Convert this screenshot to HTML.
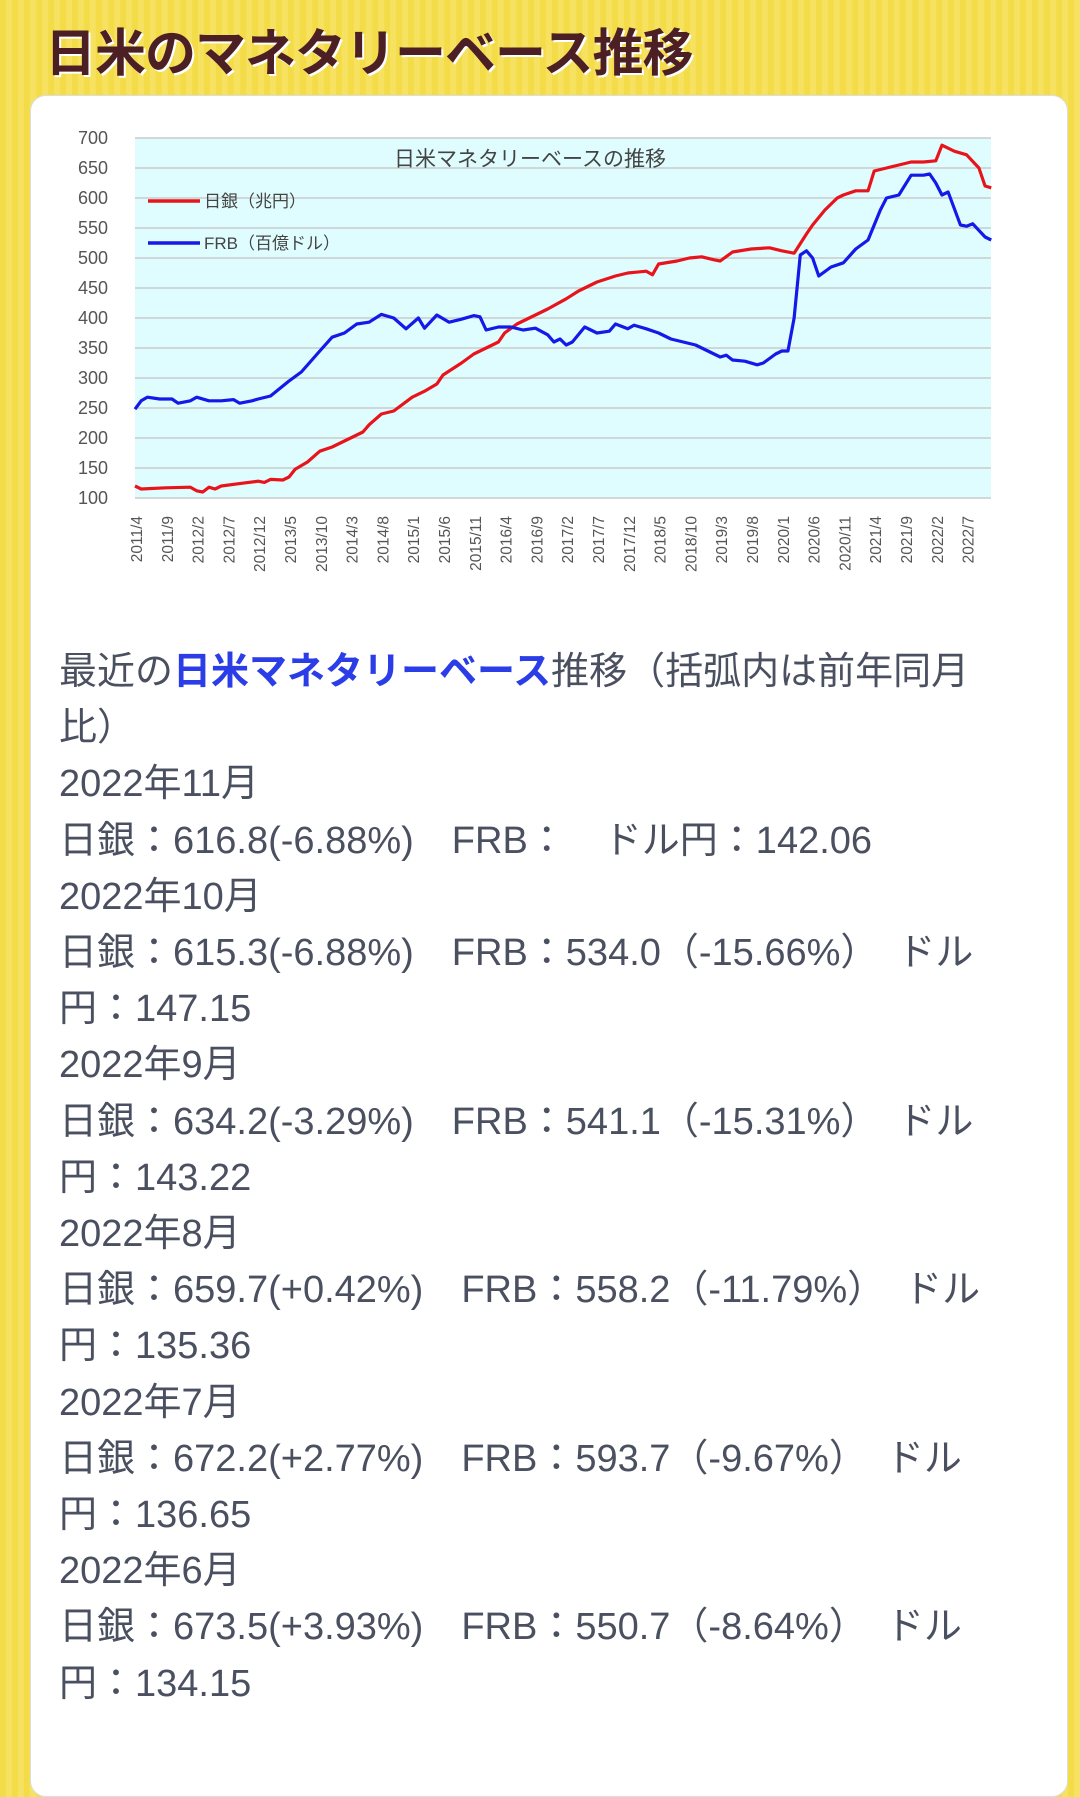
<!DOCTYPE html>
<html><head><meta charset="utf-8"><style>
html,body{margin:0;padding:0}
body{width:1080px;height:1693px;overflow:hidden;background:repeating-linear-gradient(90deg,#f3dc48 0 6px,#f6e260 6px 12px);font-family:"Liberation Sans","Noto Sans CJK JP",sans-serif;position:relative}
h1{position:absolute;left:45px;top:12px;margin:0;font-size:51px;font-weight:bold;color:#4b1f24;text-shadow:2px 2px 0 #fff;font-family:"Noto Sans CJK JP",sans-serif;letter-spacing:-1px;white-space:nowrap}
.card{position:absolute;left:30px;top:95px;width:1036px;height:1700px;background:#fff;border-radius:16px;border:1px solid #ddd}
.txt{position:absolute;left:59px;top:644px;font-size:38px;line-height:56.2px;color:#4a5060;white-space:nowrap;font-family:"Liberation Sans","Noto Sans CJK JP",sans-serif}
.b{color:#2b3de6;font-weight:bold}
</style></head><body>
<h1>日米のマネタリーベース推移</h1>
<div class="card"></div>
<svg style="position:absolute;left:0;top:0" width="1080" height="640" font-family="Liberation Sans, Noto Sans CJK JP, sans-serif">
<rect x="135" y="138" width="856" height="360" fill="#dffdfe"/>
<g stroke="#c8cccc" stroke-width="1.5">
<line x1="135" x2="991" y1="138" y2="138"/><line x1="135" x2="991" y1="168" y2="168"/><line x1="135" x2="991" y1="198" y2="198"/><line x1="135" x2="991" y1="228" y2="228"/><line x1="135" x2="991" y1="258" y2="258"/><line x1="135" x2="991" y1="288" y2="288"/><line x1="135" x2="991" y1="318" y2="318"/><line x1="135" x2="991" y1="348" y2="348"/><line x1="135" x2="991" y1="378" y2="378"/><line x1="135" x2="991" y1="408" y2="408"/><line x1="135" x2="991" y1="438" y2="438"/><line x1="135" x2="991" y1="468" y2="468"/><line x1="135" x2="991" y1="498" y2="498"/>
</g>
<g font-size="18" fill="#555" text-anchor="end">
<text x="108" y="144">700</text><text x="108" y="174">650</text><text x="108" y="204">600</text><text x="108" y="234">550</text><text x="108" y="264">500</text><text x="108" y="294">450</text><text x="108" y="324">400</text><text x="108" y="354">350</text><text x="108" y="384">300</text><text x="108" y="414">250</text><text x="108" y="444">200</text><text x="108" y="474">150</text><text x="108" y="504">100</text>
</g>
<text x="530" y="166" font-size="21" fill="#444" text-anchor="middle">日米マネタリーベースの推移</text>
<line x1="148" x2="200" y1="201" y2="201" stroke="#e8141c" stroke-width="3.5"/>
<text x="204" y="207" font-size="17" fill="#444">日銀（兆円）</text>
<line x1="148" x2="200" y1="243" y2="243" stroke="#1418e8" stroke-width="3.5"/>
<text x="204" y="249" font-size="17" fill="#444">FRB（百億ドル）</text>
<g transform="translate(135,558) scale(6.16,-0.6)" fill="none" stroke-width="3.2" stroke-linejoin="round">
<polyline vector-effect="non-scaling-stroke" stroke="#e8141c" points="0,120 1,115 5,117 9,118 10,112 11,110 12,118 13,115 14,120 17,124 20,128 21,126 22,131 24,130 25,135 26,148 28,160 30,178 32,185 35,200 37,210 38,222 40,240 42,245 45,268 47,278 49,290 50,305 53,325 55,340 57,350 59,360 60,375 62,390 64,400 65,405 67,415 70,432 72,445 74,455 75,460 78,470 80,475 83,478 84,472 85,490 88,495 90,500 92,502 94,497 95,495 97,510 100,515 103,517 105,512 107,508 109,540 110,555 112,580 114,600 115,605 117,612 119,612 120,645 122,650 124,655 126,660 128,660 130,662 131,688 133,678 135,672 137,650 138,620 139,617"/>
<polyline vector-effect="non-scaling-stroke" stroke="#1418e8" points="0,248 1,262 2,268 4,265 6,265 7,258 9,262 10,268 12,262 14,262 16,264 17,258 19,262 20,265 22,270 25,295 27,310 30,345 32,368 34,375 36,390 38,393 40,406 42,400 44,382 46,400 47,383 49,405 51,393 53,398 55,404 56,402 57,380 59,385 61,385 63,380 65,383 67,372 68,360 69,365 70,355 71,360 73,385 75,375 77,378 78,390 80,382 81,388 83,382 85,375 87,365 89,360 91,355 93,345 95,335 96,338 97,330 99,328 101,322 102,325 104,340 105,345 106,345 107,400 108,505 109,512 110,500 111,470 113,485 115,492 117,515 119,530 121,580 122,600 124,605 126,638 128,638 129,640 130,625 131,605 132,610 134,555 135,553 136,557 138,535 139,530"/>
</g>
<g font-size="15.5" fill="#555" text-anchor="end">
<text transform="translate(142,516) rotate(-90)">2011/4</text>
<text transform="translate(172.8,516) rotate(-90)">2011/9</text>
<text transform="translate(203.6,516) rotate(-90)">2012/2</text>
<text transform="translate(234.4,516) rotate(-90)">2012/7</text>
<text transform="translate(265.2,516) rotate(-90)">2012/12</text>
<text transform="translate(296,516) rotate(-90)">2013/5</text>
<text transform="translate(326.8,516) rotate(-90)">2013/10</text>
<text transform="translate(357.6,516) rotate(-90)">2014/3</text>
<text transform="translate(388.4,516) rotate(-90)">2014/8</text>
<text transform="translate(419.2,516) rotate(-90)">2015/1</text>
<text transform="translate(450,516) rotate(-90)">2015/6</text>
<text transform="translate(480.8,516) rotate(-90)">2015/11</text>
<text transform="translate(511.6,516) rotate(-90)">2016/4</text>
<text transform="translate(542.4,516) rotate(-90)">2016/9</text>
<text transform="translate(573.2,516) rotate(-90)">2017/2</text>
<text transform="translate(604,516) rotate(-90)">2017/7</text>
<text transform="translate(634.8,516) rotate(-90)">2017/12</text>
<text transform="translate(665.6,516) rotate(-90)">2018/5</text>
<text transform="translate(696.4,516) rotate(-90)">2018/10</text>
<text transform="translate(727.2,516) rotate(-90)">2019/3</text>
<text transform="translate(758,516) rotate(-90)">2019/8</text>
<text transform="translate(788.8,516) rotate(-90)">2020/1</text>
<text transform="translate(819.6,516) rotate(-90)">2020/6</text>
<text transform="translate(850.4,516) rotate(-90)">2020/11</text>
<text transform="translate(881.2,516) rotate(-90)">2021/4</text>
<text transform="translate(912,516) rotate(-90)">2021/9</text>
<text transform="translate(942.8,516) rotate(-90)">2022/2</text>
<text transform="translate(973.6,516) rotate(-90)">2022/7</text>
</g>
</svg>
<div class="txt">最近の<span class="b">日米マネタリーベース</span>推移（括弧内は前年同月<br>比）<br>2022年11月<br>日銀：616.8(-6.88%)　FRB：　ドル円：142.06<br>2022年10月<br>日銀：615.3(-6.88%)　FRB：534.0（-15.66%）　ドル<br>円：147.15<br>2022年9月<br>日銀：634.2(-3.29%)　FRB：541.1（-15.31%）　ドル<br>円：143.22<br>2022年8月<br>日銀：659.7(+0.42%)　FRB：558.2（-11.79%）　ドル<br>円：135.36<br>2022年7月<br>日銀：672.2(+2.77%)　FRB：593.7（-9.67%）　ドル<br>円：136.65<br>2022年6月<br>日銀：673.5(+3.93%)　FRB：550.7（-8.64%）　ドル<br>円：134.15</div>
</body></html>
